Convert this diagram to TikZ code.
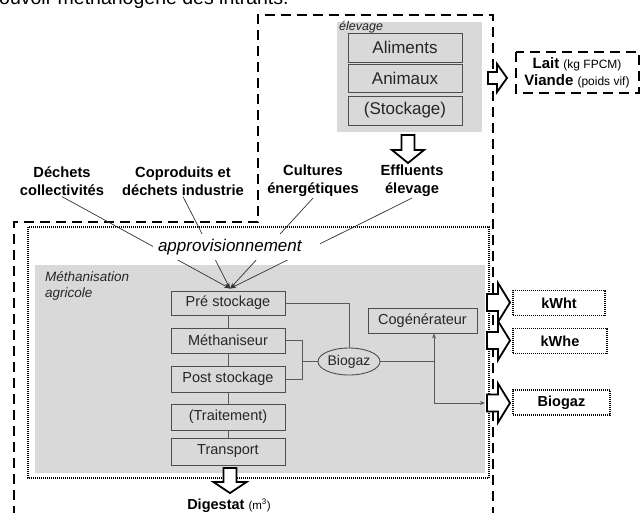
\documentclass[tikz,border=0pt]{standalone}
\usepackage{fontspec}
\setmainfont{Liberation Sans}
\usetikzlibrary{shapes.geometric,arrows.meta,calc}
\definecolor{bggray}{HTML}{D9D9D9}
\definecolor{boxline}{HTML}{4D4D4D}
\definecolor{lineclr}{HTML}{595959}
\definecolor{txt}{HTML}{262626}
\tikzset{
  pics/harrow/.style n args={4}{code={\draw[blockarr] (0,-#1) -- (#3,-#1) -- (#3,-#2) -- (#4,0) -- (#3,#2) -- (#3,#1) -- (0,#1) -- cycle;}},
  pics/varrow/.style n args={4}{code={\draw[blockarr] (-#1,0) -- (-#1,#3) -- (-#2,#3) -- (0,#4) -- (#2,#3) -- (#1,#3) -- (#1,0) -- cycle;}},
}
\begin{document}
\begin{tikzpicture}[x=1pt,y=-1pt,
  outerdash/.style={line width=2.4pt,dash pattern=on 10pt off 6pt},
  dotbox/.style={line width=1.3pt,dash pattern=on 1pt off 1pt},
  procbox/.style={draw=boxline,line width=0.9pt,minimum width=114pt,inner sep=0pt,font=\fontsize{14.5}{16}\selectfont,text=txt},
  elevbox/.style={procbox,font=\fontsize{17}{19}\selectfont},
  catlabel/.style={font=\bfseries\fontsize{14.7}{18}\selectfont,align=center,inner sep=1pt},
  conn/.style={draw=lineclr,line width=0.8pt},
  feed/.style={draw=black!80,line width=0.7pt,-{Stealth[length=6pt,width=4pt]}},
  blockarr/.style={draw=black,fill=white,line width=1.8pt,line join=miter},
  outbox/.style={draw=black,line width=1.3pt,dash pattern=on 1pt off 1pt,minimum height=25pt,inner sep=0pt,font=\bfseries\fontsize{14.5}{16}\selectfont},
]
\useasboundingbox (0,0) rectangle (642,512);

% clipped title line
\node[anchor=base west,inner sep=0,font=\fontsize{19.5}{20}\selectfont] (title) at (-1,4) {ouvoir méthanogène des intrants.};

% backgrounds
\fill[bggray] (337,22) rectangle (482,132);
\fill[bggray] (35,265) rectangle (485,473);
\draw[dotbox] (28,227) rectangle (489,478);
\draw[outerdash] (14,516) -- (14,222) -- (258,222) -- (258,15) -- (493,15) -- (493,516);

% elevage
\node[anchor=west,font=\itshape\fontsize{12.5}{14}\selectfont,inner sep=0,text=txt] (elevlbl) at (339,27) {élevage};
\node[elevbox,minimum height=29pt] (alim) at (405,47.5) {Aliments};
\node[elevbox,minimum height=28pt] (anim) at (405,78) {Animaux};
\node[elevbox,minimum height=29pt] (stock) at (405,110.5) {(Stockage)};

% products of elevage
\draw[outerdash,line width=2.2pt] (516,52) rectangle (639,93);
\node[align=center,inner sep=0,font=\bfseries\fontsize{15}{17}\selectfont] (prod) at (577,73) {Lait {\mdseries\fontsize{12}{14}\selectfont(kg FPCM)}\\Viande {\mdseries\fontsize{12}{14}\selectfont(poids vif)}};
\pic at (488,78) {harrow={6}{14}{9}{19}};
\pic at (408,135) {varrow={6.5}{16}{15}{28}};

% input categories
\node[catlabel] (dech) at (62,181) {Déchets\\collectivités};
\node[catlabel] (copro) at (183,181) {Coproduits et\\déchets industrie};
\node[catlabel] (cult) at (313,181) {Cultures\\énergétiques};
\node[catlabel] (effl) at (412,181) {Effluents\\élevage};

% methanisation
\node[anchor=north west,align=left,font=\itshape\fontsize{13.5}{16}\selectfont,inner sep=0,text=txt] (methlbl) at (45,271) {Méthanisation\\agricole};
\node[procbox,minimum height=24pt] (pre) at (228,303) {Pré stockage};
\node[procbox,minimum height=25pt] (meth) at (228,340.5) {Méthaniseur};
\node[procbox,minimum height=26pt] (post) at (228,379) {Post stockage};
\node[procbox,minimum height=26pt] (trait) at (228,417) {(Traitement)};
\node[procbox,minimum height=27pt] (transp) at (228,451.5) {Transport};
\node[procbox,minimum width=109pt,minimum height=25pt] (cog) at (422.5,320.5) {Cogénérateur};
\node[ellipse,draw=boxline,line width=0.9pt,minimum width=62pt,minimum height=27pt,inner sep=0,font=\fontsize{14}{16}\selectfont,text=txt] (bio) at (349,361.5) {Biogaz};

\draw[conn] (pre) -- (meth);
\draw[conn] (meth) -- (post);
\draw[conn] (post) -- (trait);
\draw[conn] (trait) -- (transp);

% feeding lines
\coordinate (feedpt) at ([xshift=2pt,yshift=2pt]pre.north);
\draw[feed] (dech.south) -- (feedpt);
\draw[feed] (copro.south) -- (feedpt);
\draw[feed] (cult.south) -- (feedpt);
\draw[feed] (effl.south) -- (feedpt);
\node[fill=white,inner sep=0pt,minimum height=26pt,text width=167pt,align=left,font=\itshape\fontsize{17}{19}\selectfont] (appro) at (236.5,247) {\hspace*{5pt}approvisionnement};

% biogaz connections
\draw[conn] (pre.east) -| (bio.north);
\draw[conn] (meth.east) -- ++(17,0) coordinate (bk) |- (post.east);
\draw[conn,line width=1.5pt] (bk |- bio.west) -- (bio.west);
\coordinate (split) at (434,361.5);
\coordinate (bgtail) at (485,403);
\draw[conn] (bio.east) -- (split);
\draw[conn,-{Stealth[length=5pt,width=4pt]}] (split) -- (split |- cog.south);
\draw[conn,-{Stealth[length=5pt,width=4pt]}] (split) |- (bgtail);

% outputs
\pic at (487,302.5) {harrow={8.5}{19.5}{11}{23}};
\pic at (487,340.5) {harrow={8.5}{19.5}{11}{23}};
\pic at (487,403) {harrow={8.5}{19.5}{11}{23}};
\node[outbox,minimum width=92pt] (kwht) at (559,303) {kWht};
\node[outbox,minimum width=94pt] (kwhe) at (560,341) {kWhe};
\node[outbox,minimum width=97pt] (bgout) at (561.5,402.5) {Biogaz};

% digestat
\pic at (230,468) {varrow={6.5}{16.5}{14}{25}};
\node[anchor=base,inner sep=0,font=\bfseries\fontsize{14.5}{16}\selectfont] (dig) at (229,509) {Digestat {\mdseries\fontsize{11.5}{13}\selectfont(m\textsuperscript{3})}};
\end{tikzpicture}
\end{document}
